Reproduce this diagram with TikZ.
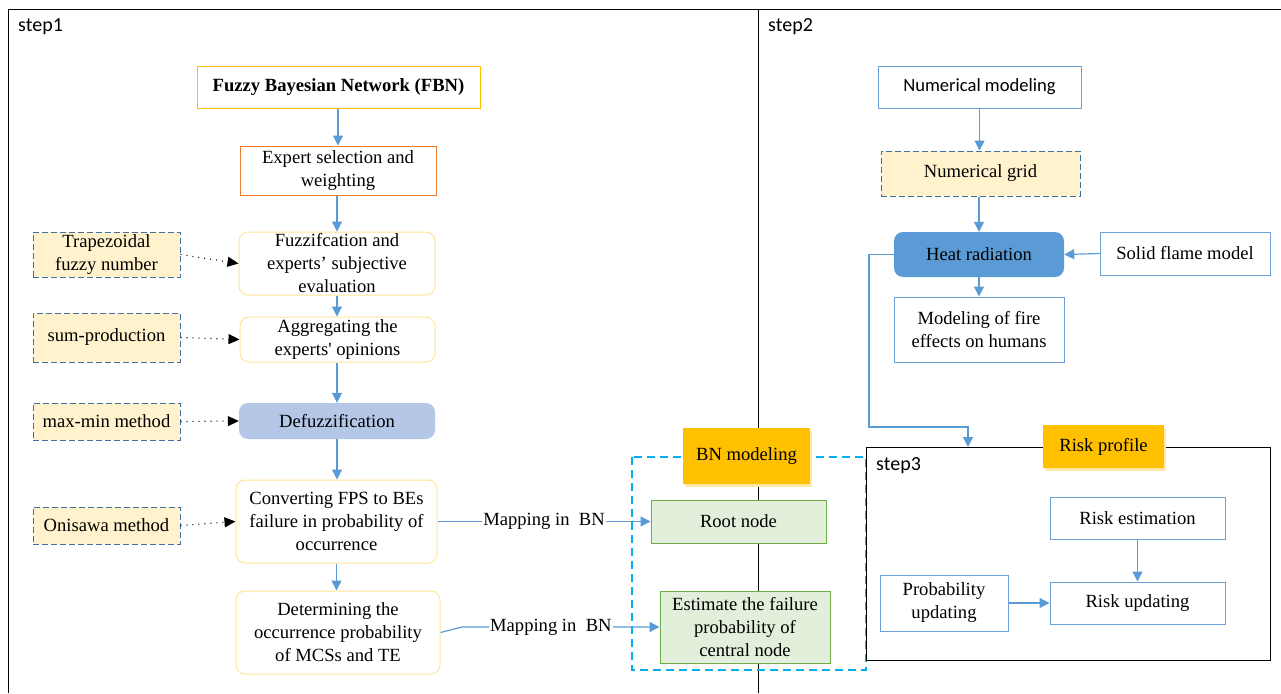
\documentclass[tikz,border=0pt]{standalone}
\usepackage{fontspec}
\setmainfont{Liberation Serif}
\newfontfamily\calfont{Carlito}
\usetikzlibrary{arrows.meta,shadows}
\definecolor{lineblue}{RGB}{91,155,213}
\definecolor{boxblue}{RGB}{110,160,215}
\definecolor{dashblue}{RGB}{65,113,156}
\definecolor{paleyellow}{RGB}{255,242,204}
\definecolor{softyellow}{RGB}{255,230,153}
\definecolor{gold}{RGB}{255,192,0}
\definecolor{orangeb}{RGB}{237,125,49}
\definecolor{defuzzc}{RGB}{180,199,231}
\definecolor{heatc}{RGB}{91,155,213}
\definecolor{greenfill}{RGB}{226,239,218}
\definecolor{greenb}{RGB}{112,173,71}
\definecolor{cyanb}{RGB}{0,176,240}
\begin{document}
\begin{tikzpicture}[x=1pt,y=-1pt,
  every node/.style={font=\fontsize{18.6}{23}\selectfont, align=center, inner xsep=2pt, inner ysep=0pt},
  plainbox/.style={draw, line width=1pt, fill=white},
  rbox/.style={draw=softyellow, line width=1pt, fill=white, rounded corners=9pt},
  dashbox/.style={draw=dashblue, dashed, dash pattern=on 6pt off 3pt, line width=1pt, fill=paleyellow},
  bluebox/.style={draw=boxblue, line width=1pt, fill=white},
  goldbox/.style={fill=gold, draw=none, drop shadow={fill=gold!35, opacity=1, shadow xshift=2pt, shadow yshift=-2.5pt}},
  greenbox/.style={draw=greenb, line width=1pt, fill=greenfill},
  bl/.style={draw=lineblue, line width=1.2pt, -{Triangle[length=10pt,width=10pt]}},
  dotarr/.style={draw=black, line width=1.1pt, dash pattern=on 1pt off 5pt, -{Triangle[length=11pt,width=10pt]}},
  steplabel/.style={font=\calfont\fontsize{20}{22}\selectfont, anchor=west, inner sep=0pt}
]
\useasboundingbox (0,0) rectangle (1281,693);
% frames
\draw[line width=1pt] (8,693) -- (8,10) -- (1281,10);
\draw[line width=1pt] (758,10) -- (758,693);
\node[steplabel] (s1) at (18,27) {step1};
\node[steplabel] (s2) at (768,27) {step2};

% cyan dashed BN region
\draw[draw=cyanb, line width=1.8pt, dash pattern=on 8pt off 5pt] (632,457) rectangle (866,670);

% step 1 column
\node[plainbox, draw=gold, minimum width=283, minimum height=42, font=\bfseries\fontsize{18.6}{23}\selectfont] (fbn) at (338.5,87) {Fuzzy Bayesian Network (FBN)};
\node[plainbox, draw=orangeb, minimum width=196, minimum height=49] (exp) at (338,170.5) {Expert selection and\\weighting};
\node[rbox, minimum width=196, minimum height=63] (fuz) at (337,263.5) {Fuzzifcation and\\experts’ subjective\\evaluation};
\node[rbox, minimum width=195, minimum height=45] (agg) at (337.5,339.5) {Aggregating the\\experts\textquotesingle{} opinions};
\node[fill=defuzzc, rounded corners=9pt, minimum width=196, minimum height=36] (dfz) at (337,421) {Defuzzification};
\node[rbox, minimum width=201, minimum height=83] (conv) at (336.5,521.5) {Converting FPS to BEs\\failure in probability of\\occurrence};
\node[rbox, minimum width=204, minimum height=83] (det) at (338,632.5) {Determining the\\occurrence probability\\of MCSs and TE};

% left dashed boxes
\node[dashbox, minimum width=147, minimum height=45] (trap) at (106.5,254.5) {Trapezoidal\\fuzzy number};
\node[dashbox, minimum width=147, minimum height=49] (sum) at (106.5,337.5) {sum-production};
\node[dashbox, minimum width=147, minimum height=37] (mm) at (106.5,421.5) {max-min method};
\node[dashbox, minimum width=147, minimum height=37] (oni) at (106.5,525.5) {Onisawa method};

\draw[bl] (fbn.south -| exp.north) -- (exp.north);
\draw[bl] (exp.south -| fuz.north) -- (fuz.north);
\draw[bl] (fuz.south) -- (fuz.south |- agg.north);
\draw[bl] (agg.south -| dfz.north) -- (dfz.north);
\draw[bl] (dfz.south) -- (dfz.south |- conv.north);
\draw[bl] (conv.south) -- (conv.south |- det.north);

\draw[dotarr] (trap.east) -- (fuz.west);
\draw[dotarr] (sum.east) -- (agg.west);
\draw[dotarr] (mm.east) -- (dfz.west);
\draw[dotarr] (oni.east) -- (conv.west);

% BN modeling
\node[goldbox, minimum width=127, minimum height=56] (bnm) at (746.5,456) {BN modeling};
\node[greenbox, minimum width=175, minimum height=43] (root) at (738.5,521.5) {Root node};
\node[greenbox, minimum width=170, minimum height=72] (est) at (745,627) {Estimate the failure\\probability of\\central node};

\draw[bl] (conv.east) -- node[fill=white, inner sep=1pt] (map1) {Mapping in\ \ BN} (root.west);
\coordinate (bend) at (462,627);
\draw[bl] (det.east) -- (bend) -- node[pos=0.45, fill=white, inner sep=1pt] (map2) {Mapping in\ \ BN} (est.west);

% step 2
\node[bluebox, minimum width=203, minimum height=42, font=\calfont\fontsize{18.6}{21}\selectfont] (nm) at (979.5,87) {Numerical modeling};
\node[dashbox, minimum width=199, minimum height=45] (ng) at (980.5,173.5) {Numerical grid};
\node[fill=heatc, rounded corners=9pt, minimum width=170, minimum height=45] (heat) at (979,254.5) {Heat radiation};
\node[bluebox, minimum width=170, minimum height=43] (solid) at (1185,253.5) {Solid flame model};
\node[bluebox, minimum width=170, minimum height=65] (fire) at (979,329.5) {Modeling of fire\\effects on humans};

\draw[bl] (nm.south) -- (nm.south |- ng.north);
\draw[bl] (ng.south -| heat.north) -- (heat.north);
\draw[bl] (heat.south) -- (fire.north);
\draw[bl] (solid.west) -- (heat.east);

% step 3
\node[draw, line width=1pt, fill=white, minimum width=404, minimum height=213, inner sep=0pt] (s3box) at (1068,553.5) {};
\node[steplabel] (s3) at (876,466) {step3};
\node[goldbox, minimum width=121, minimum height=43] (rp) at (1103.5,446.5) {Risk profile};
\node[bluebox, minimum width=175, minimum height=42] (rest) at (1137.5,518) {Risk estimation};
\node[bluebox, minimum width=175, minimum height=42] (rupd) at (1137.5,603) {Risk updating};
\node[bluebox, minimum width=128, minimum height=56] (prob) at (944,603) {Probability\\updating};
\draw[bl] (rest.south) -- (rupd.north);
\draw[bl] (prob.east) -- (rupd.west);

\coordinate (s3in) at (968,447);
\draw[bl] (heat.west) -- (869,254.5) -- (869,427) -- (968,427) -- (s3in);
\end{tikzpicture}
\end{document}
